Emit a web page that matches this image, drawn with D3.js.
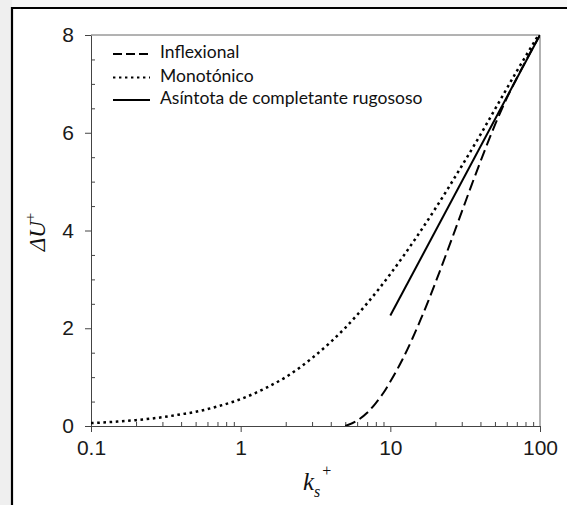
<!DOCTYPE html>
<html>
<head>
<meta charset="utf-8">
<script src="https://cdn.jsdelivr.net/npm/d3@7"></script>
<style>
  body { margin: 0; background: #fff; }
  svg { display: block; }
</style>
</head>
<body>
<svg id="chart" width="567" height="505"></svg>
<script>
// ks+ values and Delta U+
const ksMono = [0.1, 0.15, 0.2, 0.3, 0.4, 0.5, 0.7, 1, 1.5, 2, 3, 4, 5, 7, 10, 15, 20, 30, 40, 50, 70, 100];
const duMono = [0.06, 0.09, 0.12, 0.18, 0.24, 0.29, 0.40, 0.55, 0.79, 1.00, 1.39, 1.72, 2.01, 2.51, 3.11, 3.87, 4.45, 5.32, 5.96, 6.48, 7.26, 8.05];

const ksInfl = [5, 6, 7, 8, 9, 10, 12, 14, 16, 18, 20, 25, 30, 35, 40, 50, 60, 70, 80, 90, 100];
const duInfl = [0, 0.11, 0.27, 0.47, 0.68, 0.91, 1.35, 1.78, 2.19, 2.57, 2.93, 3.72, 4.38, 4.94, 5.41, 6.16, 6.71, 7.12, 7.46, 7.75, 8.0];

const ksAsym = [10, 100];
const duAsym = [2.26, 8.0];

const xMajor = [0.1, 1, 10, 100];
const xLabels = ["0.1", "1", "10", "100"];
const yMajor = [0, 2, 4, 6, 8];

const legendNames = ["Inflexional", "Monotónico", "Asíntota de completante rugososo"];

const svg = d3.select("#chart");

// outer frame of the figure
svg.append("rect").attr("x", 0).attr("y", 0).attr("width", 12).attr("height", 505).attr("fill", "#efefef");
svg.append("rect").attr("x", 12).attr("y", 0).attr("width", 555).attr("height", 8).attr("fill", "#f6f6f6");
svg.append("path")
    .attr("d", "M12,505V8H567")
    .attr("fill", "none")
    .attr("stroke", "#000")
    .attr("stroke-width", 2.2);

const plotL = 91, plotR = 540, plotT = 35, plotB = 426;

const x = d3.scaleLog().domain([0.1, 100]).range([plotL, plotR]);
const y = d3.scaleLinear().domain([0, 8]).range([plotB, plotT]);

// minor ticks
const xMinor = [];
[0.1, 1, 10].forEach(d => { for (let i = 2; i <= 9; i++) xMinor.push(+(d * i).toFixed(3)); });
const yMinor = d3.range(0, 8.01, 0.5).filter(v => v % 2 !== 0);

const axisColor = "#444";

const gx = svg.append("g")
    .attr("transform", `translate(0,${plotB})`)
    .call(d3.axisBottom(x).tickValues(xMajor).tickFormat((d, i) => xLabels[i]).tickSize(6).tickSizeOuter(0).tickPadding(8));
gx.append("g")
    .call(d3.axisBottom(x).tickValues(xMinor).tickFormat("").tickSize(-4).tickSizeOuter(0))
    .select(".domain").remove();

const gy = svg.append("g")
    .attr("transform", `translate(${plotL},0)`)
    .call(d3.axisLeft(y).tickValues(yMajor).tickSize(6).tickSizeOuter(0).tickPadding(11));
gy.append("g")
    .call(d3.axisLeft(y).tickValues(yMinor).tickFormat("").tickSize(-4).tickSizeOuter(0))
    .select(".domain").remove();

svg.selectAll(".domain, .tick line").attr("stroke", axisColor);
svg.selectAll(".tick text")
    .attr("fill", "#1a1a1a")
    .style("font-family", "'Liberation Sans', Arial, sans-serif")
    .style("font-size", "21px");

// top and right border of the plot
svg.append("path")
    .attr("d", `M${plotL},${plotT}H${plotR}V${plotB}`)
    .attr("fill", "none")
    .attr("stroke", "#666")
    .attr("stroke-width", 1);

svg.append("clipPath").attr("id", "plotclip")
    .append("rect").attr("x", plotL).attr("y", plotT).attr("width", plotR - plotL).attr("height", plotB - plotT);

const line = d3.line()
    .x(d => x(d[0]))
    .y(d => y(d[1]))
    .curve(d3.curveMonotoneX);

const plot = svg.append("g").attr("clip-path", "url(#plotclip)");

const styles = [
    { dash: "11,5", width: 2 },
    { dash: "2.6,3.6", width: 2.5 },
    { dash: null, width: 2 }
];

const series = [
    d3.zip(ksInfl, duInfl),
    d3.zip(ksMono, duMono),
    d3.zip(ksAsym, duAsym)
];

series.forEach((s, i) => {
    plot.append("path")
        .datum(s)
        .attr("fill", "none")
        .attr("stroke", "#000")
        .attr("stroke-width", styles[i].width)
        .attr("stroke-dasharray", styles[i].dash)
        .attr("d", line);
});

// legend
const legendY = [54, 77.5, 100];
legendNames.forEach((name, i) => {
    svg.append("line")
        .attr("x1", 113).attr("x2", 150)
        .attr("y1", legendY[i]).attr("y2", legendY[i])
        .attr("stroke", "#000")
        .attr("stroke-width", i === 1 ? 2.2 : 2)
        .attr("stroke-dasharray", i === 0 ? "9,4" : (i === 1 ? "2.4,3.6" : null));
    svg.append("text")
        .attr("x", 160)
        .attr("y", legendY[i] + 4)
        .attr("fill", "#111")
        .style("font-family", "Lato, 'Open Sans', sans-serif")
        .style("font-size", "17.5px")
        .text(name);
});

// axis titles
const yTitle = svg.append("text")
    .attr("transform", "translate(45,232) rotate(-90)")
    .attr("text-anchor", "middle")
    .attr("fill", "#111")
    .style("font-family", "'Liberation Serif', 'Times New Roman', serif")
    .style("font-style", "italic")
    .style("font-size", "23px");
yTitle.append("tspan").text("ΔU");
yTitle.append("tspan").attr("dy", -10).style("font-size", "15px").style("font-style", "normal").text("+");

const xTitle = svg.append("text")
    .attr("x", 303)
    .attr("y", 490)
    .attr("fill", "#111")
    .style("font-family", "'Liberation Serif', 'Times New Roman', serif")
    .style("font-style", "italic")
    .style("font-size", "25px");
xTitle.append("tspan").text("k");
xTitle.append("tspan").attr("dy", 7).style("font-size", "16px").text("s");
xTitle.append("tspan").attr("dy", -21).attr("dx", 2).style("font-size", "16px").style("font-style", "normal").text("+");
</script>
</body>
</html>
